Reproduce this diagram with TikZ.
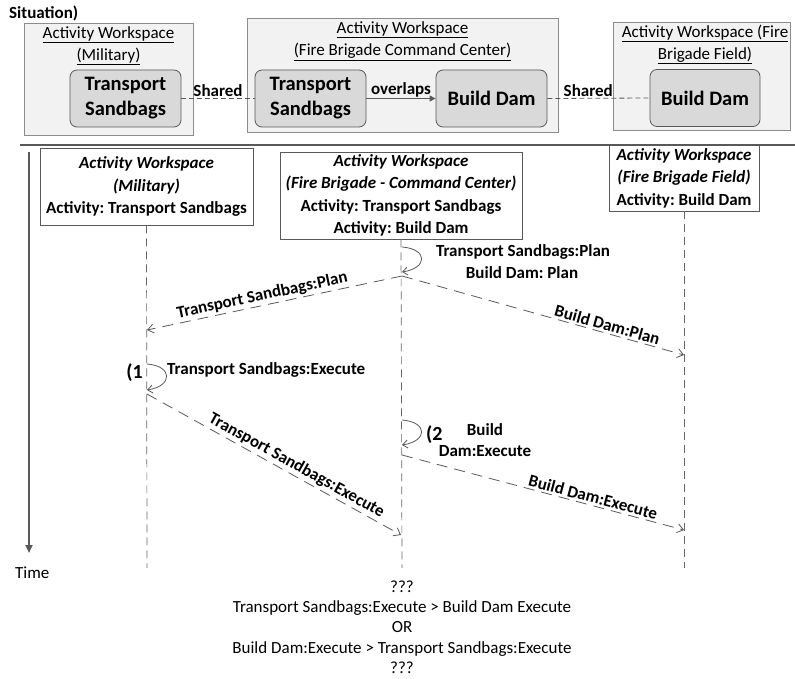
\documentclass[tikz,border=0pt]{standalone}
\usepackage{fontspec}
\setmainfont{Carlito}
\usetikzlibrary{arrows.meta}
\definecolor{linegray}{HTML}{595959}
\definecolor{boxgray}{HTML}{D9D9D9}
\definecolor{outgray}{HTML}{F2F2F2}
\frenchspacing
\begin{document}
\begin{tikzpicture}[x=1pt,y=-1pt,
  outerbox/.style={draw=black!45, fill=outgray, line width=0.7pt, inner sep=0pt},
  titletext/.style={align=center, font=\fontsize{17}{22}\selectfont, inner sep=0pt},
  actbox/.style={draw=linegray, fill=boxgray, rounded corners=7pt, line width=0.8pt,
    align=center, font=\fontsize{20.5}{25}\selectfont\bfseries, inner sep=0pt,
    minimum height=57pt},
  lifebox/.style={draw=linegray, fill=white, line width=0.7pt, align=center,
    font=\fontsize{17}{22.5}\selectfont\bfseries, inner sep=0pt},
  lifeline/.style={draw=black!60, dash pattern=on 8pt off 5pt, line width=0.7pt},
  msg/.style={draw=linegray, dash pattern=on 11pt off 7pt, line width=0.8pt,
    -{Straight Barb[length=6pt,width=9pt]}},
  selfloop/.style={draw=linegray, line width=0.8pt, -{Straight Barb[length=5pt,width=8pt]}},
  lbl/.style={font=\fontsize{17}{21}\selectfont\bfseries, inner sep=2pt},
  plain/.style={font=\fontsize{17}{20}\selectfont, inner sep=0pt},
  shared/.style={draw=linegray, dash pattern=on 5pt off 3pt, line width=0.8pt}
]
\useasboundingbox (0,0) rectangle (795,679);

% ---- top situation ----
\node[font=\fontsize{17}{20}\selectfont\bfseries, anchor=base west, inner sep=0pt] (sit) at (9,19) {Situation)};

\node[outerbox, minimum width=169pt, minimum height=112pt] (ow1) at (108.5,79) {};
\node[outerbox, minimum width=311pt, minimum height=114pt] (ow2) at (402.5,75) {};
\node[outerbox, minimum width=177pt, minimum height=108pt] (ow3) at (701.5,76) {};

\node[titletext] (t1) at (108.5,46) {\underline{Activity Workspace}\\\underline{(Military)}};
\node[titletext] (t2) at (402.5,41) {\underline{Activity Workspace}\\\underline{(Fire Brigade Command Center)}};
\node[titletext] (t3) at (705,44.5) {\underline{Activity Workspace (Fire}\\\underline{Brigade Field)}};

\node[actbox, minimum width=111pt] (ts1) at (125.5,98.5) {Transport\\Sandbags};
\node[actbox, minimum width=111pt] (ts2) at (310.5,98.5) {Transport\\Sandbags};
\node[actbox, minimum width=111pt] (bd2) at (491.5,98.5) {Build Dam};
\node[actbox, minimum width=110pt] (bd3) at (705,98) {Build Dam};

\draw[shared] (ts1.east) -- node[lbl, above, inner sep=1pt, pos=0.5] {Shared} (ts2.west);
\draw[draw=linegray, line width=1.2pt, -{Triangle[length=6pt,width=6pt]}] (ts2.east) -- node[lbl, above, inner sep=0.5pt] {overlaps} (bd2.west);
\draw[shared] (bd2.east) -- node[lbl, above, inner sep=1pt, pos=0.4] {Shared} (bd3.west);

% ---- separator ----
\coordinate (sepL) at (20,145);
\coordinate (sepR) at (795,145);
\draw[draw=linegray, line width=2.8pt] (sepL) -- (sepR);

% ---- time axis ----
\coordinate (tTop) at (29,152);
\coordinate (tBot) at (29,553);
\draw[draw=linegray, line width=2.2pt, -{Triangle[length=8pt,width=7pt]}] (tTop) -- (tBot);
\node[plain, anchor=west] (time) at (15,573) {Time};

% ---- lifeline boxes ----
\node[lifebox, minimum width=213pt, minimum height=77pt] (L1) at (146.5,186.5)
  {\textit{Activity Workspace}\\\textit{(Military)}\\Activity: Transport Sandbags};
\node[lifebox, minimum width=242pt, minimum height=87pt] (L2) at (401,195.5)
  {\textit{Activity Workspace}\\\textit{(Fire Brigade - Command Center)}\\Activity: Transport Sandbags\\Activity: Build Dam};
\node[lifebox, minimum width=150pt, minimum height=66pt] (L3) at (684,178)
  {\textit{Activity Workspace}\\\textit{(Fire Brigade Field)}\\Activity: Build Dam};

\coordinate (e1) at (147,568);
\coordinate (e2) at (402,568);
\coordinate (e3) at (684,568);
\draw[lifeline] (L1.south) -- (e1);
\draw[lifeline] (L2.south) -- (e2);
\draw[lifeline] (L3.south) -- (e3);

% ---- plan phase ----
\coordinate (p2a) at (402,247);
\coordinate (p2b) at (402,272);
\draw[selfloop] (p2a) .. controls (428,249) and (428,268) .. (p2b);
\node[lbl, inner sep=0pt] (planlbl) at (523,252) {Transport Sandbags:Plan};
\node[lbl, inner sep=0pt] (planlbl2) at (522,273) {Build Dam: Plan};

\coordinate (p2s) at (402,276);
\coordinate (p1e) at (147,330);
\coordinate (p3e) at (684,355);
\draw[msg] (p2s) -- node[lbl, sloped, above, pos=0.54] {Transport Sandbags:Plan} (p1e);
\draw[msg] (p2s) -- node[lbl, sloped, above, pos=0.72] {Build Dam:Plan} (p3e);

% ---- execute phase ----
\coordinate (x1a) at (147,364);
\coordinate (x1b) at (147,390);
\draw[selfloop] (x1a) .. controls (173,366) and (173,386) .. (x1b);
\node[font=\fontsize{20}{22}\selectfont\bfseries, anchor=east, inner sep=0pt] (n1) at (143,373) {(1};
\node[lbl, anchor=west, inner sep=0pt] (x1lbl) at (167,370) {Transport Sandbags:Execute};

\coordinate (x1s) at (147,394);
\coordinate (x2e) at (401,535);
\draw[msg] (x1s) -- node[lbl, sloped, above, pos=0.57] {Transport Sandbags:Execute} (x2e);

\coordinate (x2a) at (402,420);
\coordinate (x2b) at (402,445);
\draw[selfloop] (x2a) .. controls (428,422) and (428,441) .. (x2b);
\node[font=\fontsize{20}{22}\selectfont\bfseries, anchor=west, inner sep=0pt] (n2) at (426,435) {(2};
\node[lbl, inner sep=0pt] (x2lbl) at (485,430) {Build};
\node[lbl, inner sep=0pt] (x2lbl2) at (485,451) {Dam:Execute};

\coordinate (x2s) at (402,455);
\coordinate (x3e) at (684,530);
\draw[msg] (x2s) -- node[lbl, sloped, above, pos=0.67] {Build Dam:Execute} (x3e);

% ---- bottom text ----
\node[plain, align=center, font=\fontsize{17}{20.3}\selectfont] (q) at (402,627)
  {???\\Transport Sandbags:Execute > Build Dam Execute\\OR\\Build Dam:Execute > Transport Sandbags:Execute\\???};
\end{tikzpicture}
\end{document}
